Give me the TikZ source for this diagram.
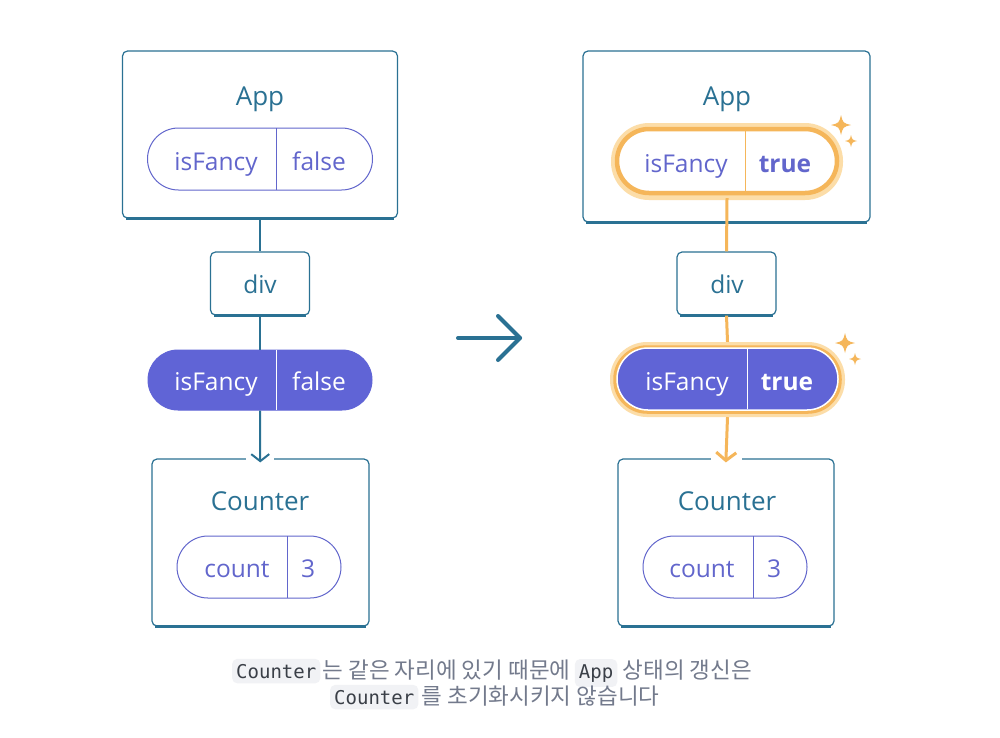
\documentclass[tikz,border=0pt]{standalone}
\usepackage{fontspec}
\setmainfont{Open Sans}
\newfontfamily\krfont{Noto Sans CJK KR}
\newfontfamily\codefont{DejaVu Sans Mono}
\usetikzlibrary{arrows.meta,calc}
\definecolor{tealc}{HTML}{2A7193}
\definecolor{indc}{HTML}{6266CC}
\definecolor{indfill}{HTML}{6064D6}
\definecolor{orc}{HTML}{F5B65A}
\definecolor{glowc}{HTML}{FCDDA8}
\definecolor{capc}{HTML}{737A8C}
\definecolor{codebg}{HTML}{F1F2F5}
\definecolor{codetext}{HTML}{3A3F47}
\tikzset{
  box/.style={draw=tealc, line width=1.2pt, rounded corners=5pt, fill=white, inner sep=0pt},
  title/.style={text=tealc, font=\fontsize{26}{30}\selectfont, inner sep=0pt, anchor=base},
  val/.style={text=indc, font=\fontsize{24.5}{28}\selectfont, inner sep=0pt, anchor=base},
  bval/.style={text=indc, font=\bfseries\fontsize{24.5}{28}\selectfont, inner sep=0pt, anchor=base},
  wval/.style={text=white, font=\fontsize{24.5}{28}\selectfont, inner sep=0pt, anchor=base},
  wbval/.style={text=white, font=\bfseries\fontsize{24.5}{28}\selectfont, inner sep=0pt, anchor=base},
  pill/.style={draw=indc, line width=1pt, rounded corners=31pt, minimum height=62pt, inner sep=0pt},
  ghost/.style={inner sep=0pt},
  tconn/.style={draw=tealc, line width=2pt},
  oconn/.style={draw=orc, line width=3pt},
  code/.style={fill=codebg, rounded corners=5pt, text=codetext, font=\codefont\fontsize{19}{21}\selectfont, inner xsep=4pt, inner ysep=5pt, anchor=base west},
  captext/.style={text=capc, font=\krfont\fontsize{22.5}{24}\selectfont, inner sep=0pt, anchor=base west},
  sparkle/.pic={\fill[orc] (0,-1) .. controls (0.2,-0.2) .. (1,0) .. controls (0.2,0.2) .. (0,1) .. controls (-0.2,0.2) .. (-1,0) .. controls (-0.2,-0.2) .. cycle;}
}
\begin{document}
\begin{tikzpicture}[x=1pt,y=-1pt]
\useasboundingbox (0,0) rectangle (1000,737);
\fill[white] (0,0) rectangle (1000,737);

% ================= LEFT =================
\node[box, minimum width=275pt, minimum height=167pt] (appL) at (260,134.5) {};
\draw[tealc, line width=2.4pt] ([xshift=4pt]appL.south west) -- ([xshift=-4pt]appL.south east);
\node[title] (appLt) at (260,105) {App};
\node[pill, minimum width=225pt] (pL1) at (260,159) {};
\draw[indc, line width=1pt] (276,128) -- (276,190);
\node[val] (pL1k) at (216,170) {isFancy};
\node[val] (pL1v) at (319,170) {false};

\node[box, minimum width=99pt, minimum height=63pt] (divL) at (260,283.5) {};
\draw[tealc, line width=2.4pt] ([xshift=4pt]divL.south west) -- ([xshift=-4pt]divL.south east);
\node[title, font=\fontsize{24.5}{28}\selectfont] (divLt) at (260,293) {div};

\node[pill, fill=indfill, draw=indfill, minimum width=224pt, minimum height=60pt, rounded corners=30pt] (pL2) at (260,380) {};
\draw[white, line width=1pt] (276,350) -- (276,410);
\node[wval] (pL2k) at (216,390) {isFancy};
\node[wval] (pL2v) at (319,390) {false};

\node[box, minimum width=217pt, minimum height=167pt] (cntL) at (260.5,542.5) {};
\draw[tealc, line width=2.4pt] ([xshift=4pt]cntL.south west) -- ([xshift=-4pt]cntL.south east);
\draw[white, line width=3pt] (246,459) -- (274,459);
\node[title] (cntLt) at (260,510) {Counter};
\node[pill, minimum width=164pt] (pL3) at (259,567) {};
\draw[indc, line width=1pt] (287,536) -- (287,598);
\node[val] (pL3k) at (237,577) {count};
\node[val] (pL3v) at (308,577) {3};

\draw[tconn] (appL) -- (divL);
\draw[tconn] (divL) -- (pL2);
\draw[tconn, shorten >=-4pt, -{Straight Barb[length=7pt,width=18pt,line width=2pt]}] (pL2) -- (cntL);

% ================= MIDDLE ARROW =================
\coordinate (arS) at (458,338);
\coordinate (arE) at (520,338);
\draw[tealc, line width=4pt, line cap=round, line join=round] (arS) -- (arE);
\draw[tealc, line width=4pt, line cap=round, line join=round] ($(arE)+(-22,-22)$) -- (arE) -- ($(arE)+(-22,22)$);

% ================= RIGHT =================
\node[box, minimum width=287pt, minimum height=171pt] (appR) at (726.5,136.5) {};
\draw[tealc, line width=2.4pt] ([xshift=4pt]appR.south west) -- ([xshift=-4pt]appR.south east);
\node[title] (appRt) at (727,105) {App};

\node[ghost, minimum width=230pt, minimum height=74pt] (pR1) at (727,161) {};
\draw[glowc, line width=6pt, rounded corners=35pt] (614,126) rectangle (840,197);
\draw[orc, line width=4.5pt, fill=white, rounded corners=32pt] (617,129) rectangle (837,193);
\draw[orc, line width=1pt] (745,131) -- (745,191);
\node[val] (pR1k) at (686,172) {isFancy};
\node[bval] (pR1v) at (785,172) {true};
\pic[scale=10] at (841,125) {sparkle};
\pic[scale=6] at (851,141) {sparkle};

\node[box, minimum width=99pt, minimum height=63pt] (divR) at (726.5,283.5) {};
\draw[tealc, line width=2.4pt] ([xshift=4pt]divR.south west) -- ([xshift=-4pt]divR.south east);
\node[title, font=\fontsize{24.5}{28}\selectfont] (divRt) at (727,293) {div};

\node[ghost, minimum width=235pt, minimum height=75pt] (pR2) at (727.5,379.5) {};
\draw[glowc, line width=6pt, rounded corners=34pt] (613,345) rectangle (842,414);
\draw[orc, line width=3.5pt, rounded corners=32pt] (615,347) rectangle (840,412);
\draw[white, line width=1.5pt, fill=indfill, rounded corners=31pt] (617,348) rectangle (838,410);
\draw[white, line width=1pt] (747,349) -- (747,409);
\node[wval] (pR2k) at (687,390) {isFancy};
\node[wbval] (pR2v) at (787,390) {true};
\pic[scale=10] at (845,343) {sparkle};
\pic[scale=6] at (855,359) {sparkle};

\node[box, minimum width=216pt, minimum height=167pt] (cntR) at (726,542.5) {};
\draw[tealc, line width=2.4pt] ([xshift=4pt]cntR.south west) -- ([xshift=-4pt]cntR.south east);
\draw[white, line width=3pt] (711,459) -- (742,459);
\node[title] (cntRt) at (727,510) {Counter};
\node[pill, minimum width=164pt] (pR3) at (725,567) {};
\draw[indc, line width=1pt] (753,536) -- (753,598);
\node[val] (pR3k) at (702,577) {count};
\node[val] (pR3v) at (774,577) {3};

% orange connectors
\draw[oconn] (pR1.south) -- (divR.north);
\draw[oconn] (divR.south) -- (pR2.north);
\draw[oconn, shorten >=-4pt, -{Straight Barb[length=8pt,width=20pt,line width=3pt]}] (pR2.south) -- (cntR.north);

% ================= CAPTION =================
\node[code] (c1) at (232,678) {Counter};
\node[captext] (t1) at ([xshift=2pt]c1.base east) {는 같은 자리에 있기 때문에};
\node[code] (c2) at ([xshift=4pt]t1.base east) {App};
\node[captext] (t2) at ([xshift=5pt]c2.base east) {상태의 갱신은};
\node[code] (c3) at (330,704) {Counter};
\node[captext] (t3) at ([xshift=3pt]c3.base east) {를 초기화시키지 않습니다};
\end{tikzpicture}
\end{document}
